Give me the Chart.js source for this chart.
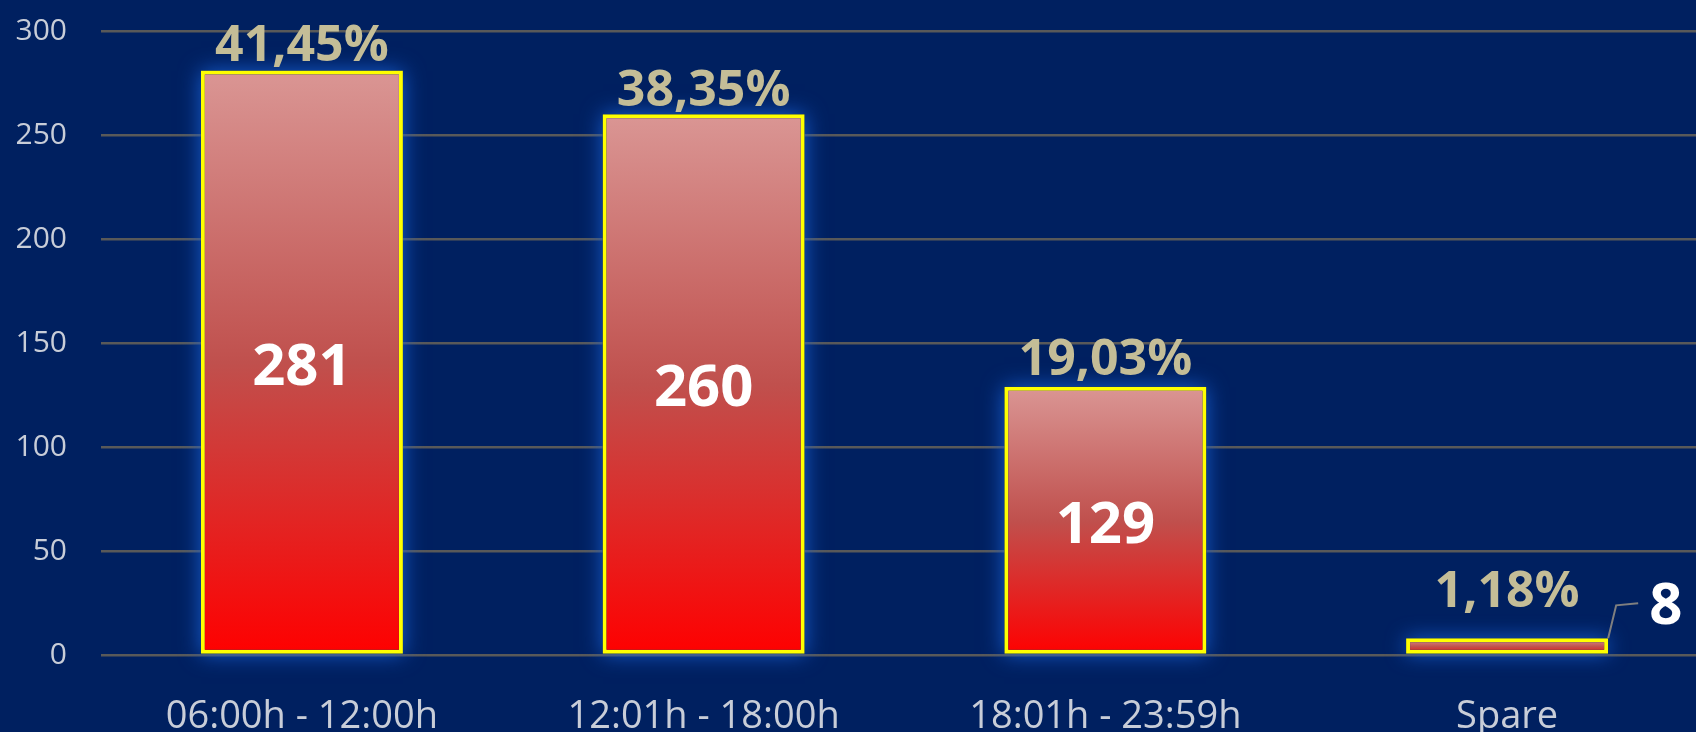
<!DOCTYPE html>
<html>
<head>
<meta charset="utf-8">
<script src="https://cdn.jsdelivr.net/npm/chart.js@4.4.1/dist/chart.umd.min.js"></script>
<style>
  html, body { margin: 0; padding: 0; background: #002060; overflow: hidden; }
  #wrap { width: 1710px; height: 732px; }
  canvas { display: block; }
</style>
</head>
<body>
<div id="wrap"><canvas id="c" width="1710" height="732"></canvas></div>
<script>
const categories = ['06:00h - 12:00h', '12:01h - 18:00h', '18:01h - 23:59h', 'Spare'];
const counts = [281, 260, 129, 8];
const percentLabels = ['41,45%', '38,35%', '19,03%', '1,18%'];
const yTicks = [0, 50, 100, 150, 200, 250, 300];

// style: gap between bar top and percent label
const percentGap = [10, 8, 12, 31];

const glowPlugin = {
  id: 'glow',
  beforeDatasetsDraw(chart) {
    const ctx = chart.ctx;
    const meta = chart.getDatasetMeta(0);
    ctx.save();
    ctx.shadowColor = 'rgba(25,100,220,0.9)';
    ctx.shadowBlur = 20;
    ctx.fillStyle = '#002060';
    meta.data.forEach(bar => {
      const p = bar.getProps(['x', 'y', 'base', 'width'], true);
      ctx.fillRect(p.x - p.width / 2, p.y, p.width, p.base - p.y);
    });
    ctx.restore();
  }
};

const labelPlugin = {
  id: 'labels',
  afterDatasetsDraw(chart) {
    const ctx = chart.ctx;
    const meta = chart.getDatasetMeta(0);
    ctx.save();
    meta.data.forEach((bar, i) => {
      const p = bar.getProps(['x', 'y', 'base', 'width'], true);
      ctx.font = 'bold 50px "Open Sans"';
      ctx.fillStyle = '#c4bd97';
      ctx.textAlign = 'center';
      ctx.textBaseline = 'alphabetic';
      ctx.fillText(percentLabels[i], p.x, p.y - percentGap[i]);
      ctx.font = 'bold 58px "Open Sans"';
      ctx.fillStyle = '#ffffff';
      ctx.textBaseline = 'middle';
      if (p.base - p.y > 80) {
        ctx.textAlign = 'center';
        ctx.fillText(String(counts[i]), p.x, (p.y + p.base) / 2 + 6);
      } else {
        const rx = p.x + p.width / 2;
        ctx.strokeStyle = '#7f7f7f';
        ctx.lineWidth = 2;
        ctx.beginPath();
        ctx.moveTo(rx, p.y);
        ctx.lineTo(rx + 8, p.y - 33);
        ctx.lineTo(rx + 30, p.y - 35);
        ctx.stroke();
        ctx.textAlign = 'left';
        ctx.fillText(String(counts[i]), rx + 41, p.y - 31);
      }
    });
    ctx.restore();
  }
};

function barGradient(context) {
  const chart = context.chart;
  const ys = chart.scales.y;
  if (!ys || !chart.chartArea) return '#c0504d';
  const v = context.dataset.data[context.dataIndex];
  const top = ys.getPixelForValue(v);
  const bottom = ys.getPixelForValue(0);
  if (!isFinite(top) || !isFinite(bottom) || top === bottom) return '#c0504d';
  const g = chart.ctx.createLinearGradient(0, top, 0, bottom);
  g.addColorStop(0, '#da9694');
  g.addColorStop(0.5, '#c0504d');
  g.addColorStop(1, '#ff0000');
  return g;
}

new Chart(document.getElementById('c'), {
  type: 'bar',
  data: {
    labels: categories,
    datasets: [{
      data: counts,
      backgroundColor: barGradient,
      borderColor: '#ffff00',
      borderWidth: 4,
      borderSkipped: false,
      barPercentage: 0.503,
      categoryPercentage: 1.0
    }]
  },
  options: {
    responsive: false,
    animation: false,
    events: [],
    layout: { padding: { top: 31, right: 2, left: 0, bottom: 0 } },
    plugins: { legend: { display: false }, tooltip: { enabled: false } },
    scales: {
      y: {
        min: 0,
        max: 300,
        afterBuildTicks(scale) { scale.ticks = yTicks.map(v => ({ value: v })); },
        afterFit(scale) { scale.width = 101; },
        border: { display: false },
        grid: { color: '#595959', lineWidth: 2.5, drawTicks: true, tickLength: 34, tickColor: 'rgba(0,0,0,0)' },
        ticks: {
          padding: 0,
          color: '#c8cdd8',
          font: { family: '"Open Sans"', size: 30 }
        }
      },
      x: {
        afterFit(scale) { scale.height = 77; },
        border: { display: false },
        grid: { display: false, drawTicks: false },
        ticks: {
          padding: 39,
          color: '#c8cdd8',
          font: { family: '"Open Sans"', size: 38 },
          maxRotation: 0,
          autoSkip: false
        }
      }
    }
  },
  plugins: [glowPlugin, labelPlugin]
});
</script>
</body>
</html>
